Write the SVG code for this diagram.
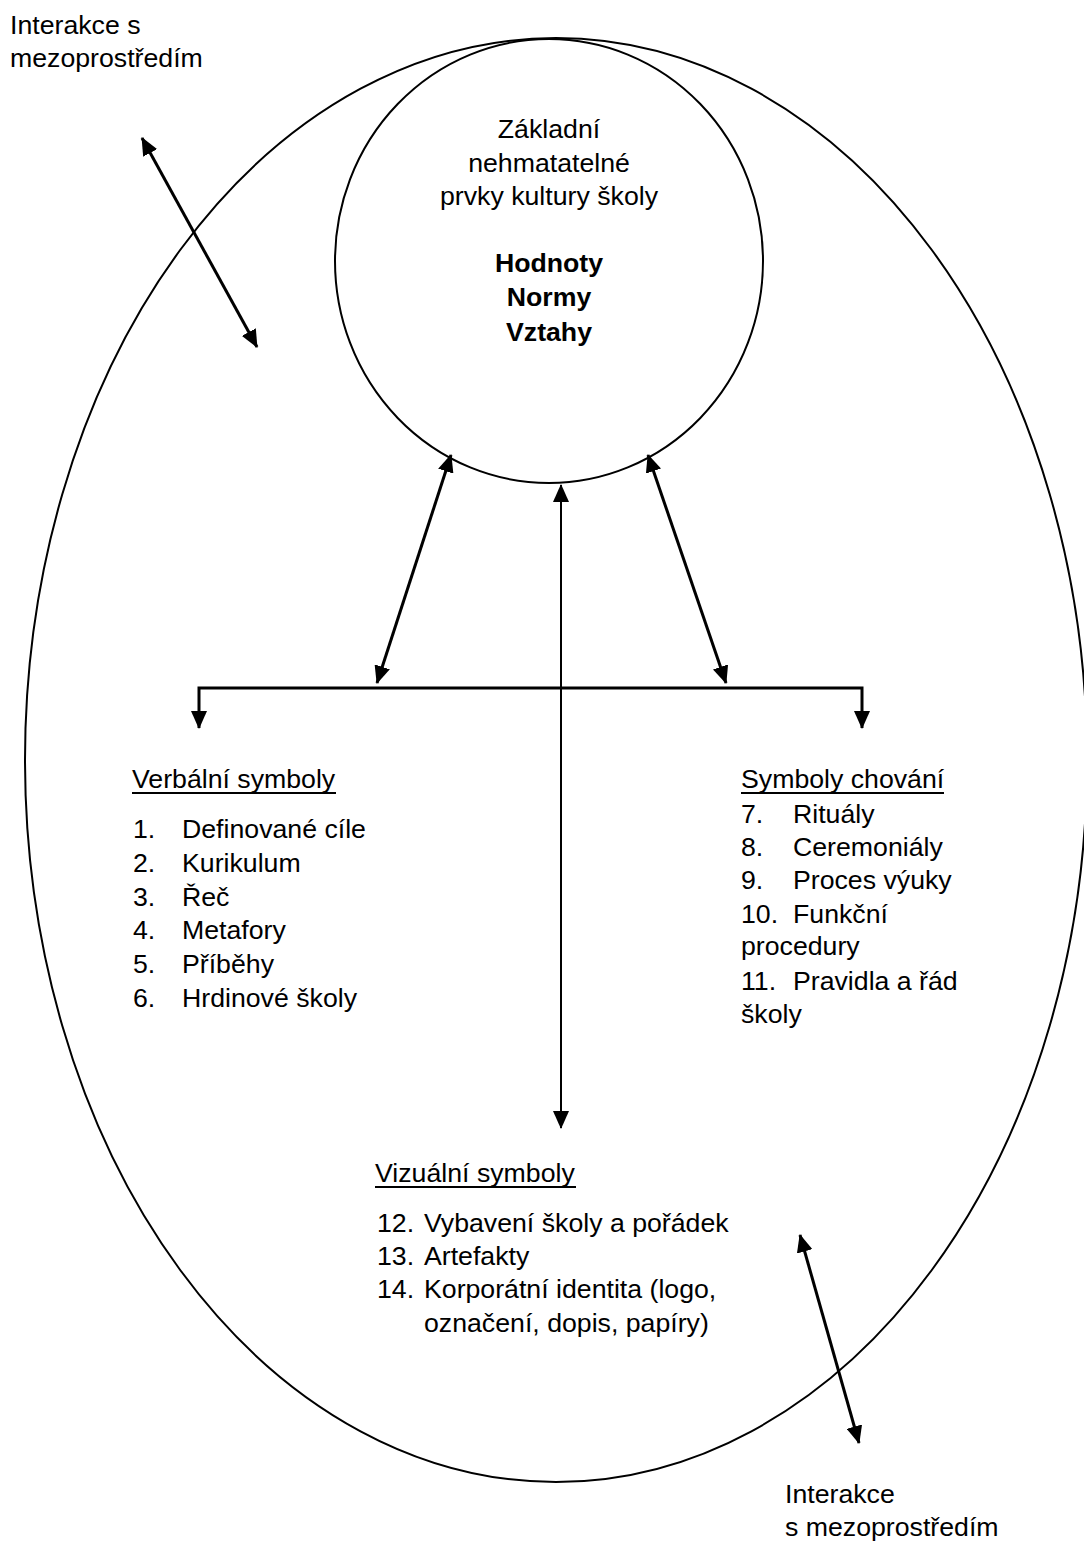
<svg xmlns="http://www.w3.org/2000/svg" width="1084" height="1544" viewBox="0 0 1084 1544">
<style>
text{font-family:"Liberation Sans",Arial,sans-serif;font-size:26.7px;fill:#000}
.b{font-weight:bold}
.c{text-anchor:middle}
.ul{stroke:#000;stroke-width:2}
.shape{fill:none;stroke:#000;stroke-width:2}
.arr{fill:none;stroke:#000;stroke-width:3;marker-start:url(#ah);marker-end:url(#ah)}
.thin{stroke-width:2}
</style>
<defs>
<marker id="ah" markerUnits="userSpaceOnUse" markerWidth="18" markerHeight="16" refX="17" refY="8" orient="auto-start-reverse" viewBox="0 0 18 16">
<path d="M0,0 L18,8 L0,16 z" fill="#000"/>
</marker>
</defs>
<rect width="1084" height="1544" fill="#fff"/>
<g id="outer">
<ellipse class="shape" cx="556" cy="760" rx="531" ry="722"/>
</g>
<g id="core">
<ellipse class="shape" cx="549" cy="261" rx="214" ry="222"/>
<text class="c" x="549" y="138">Základní</text>
<text class="c" x="549" y="172">nehmatatelné</text>
<text class="c" x="549" y="205">prvky kultury školy</text>
<text class="c b" x="549" y="272">Hodnoty</text>
<text class="c b" x="549" y="306">Normy</text>
<text class="c b" x="549" y="341">Vztahy</text>
</g>
<g id="interaction-top">
<text x="10" y="34">Interakce s</text>
<text x="10" y="67">mezoprostředím</text>
</g>
<g id="interaction-bottom">
<text x="785" y="1503">Interakce</text>
<text x="785" y="1536">s mezoprostředím</text>
</g>
<g id="verbal">
<text x="132" y="788">Verbální symboly</text>
<line class="ul" x1="132" y1="793" x2="336" y2="793"/>
<text x="133" y="838">1.</text><text x="182" y="838">Definované cíle</text>
<text x="133" y="872">2.</text><text x="182" y="872">Kurikulum</text>
<text x="133" y="906">3.</text><text x="182" y="906">Řeč</text>
<text x="133" y="939">4.</text><text x="182" y="939">Metafory</text>
<text x="133" y="973">5.</text><text x="182" y="973">Příběhy</text>
<text x="133" y="1007">6.</text><text x="182" y="1007">Hrdinové školy</text>
</g>
<g id="behaviour">
<text x="741" y="788">Symboly chování</text>
<line class="ul" x1="741" y1="793" x2="944" y2="793"/>
<text x="741" y="823">7.</text><text x="793" y="823">Rituály</text>
<text x="741" y="856">8.</text><text x="793" y="856">Ceremoniály</text>
<text x="741" y="889">9.</text><text x="793" y="889">Proces výuky</text>
<text x="741" y="923">10.</text><text x="793" y="923">Funkční</text>
<text x="741" y="955">procedury</text>
<text x="741" y="990">11.</text><text x="793" y="990">Pravidla a řád</text>
<text x="741" y="1023">školy</text>
</g>
<g id="visual">
<text x="375" y="1182">Vizuální symboly</text>
<line class="ul" x1="375" y1="1187" x2="576" y2="1187"/>
<text x="377" y="1232">12.</text><text x="424" y="1232">Vybavení školy a pořádek</text>
<text x="377" y="1265">13.</text><text x="424" y="1265">Artefakty</text>
<text x="377" y="1298">14.</text><text x="424" y="1298">Korporátní identita (logo,</text>
<text x="424" y="1332">označení, dopis, papíry)</text>
</g>
<g id="connectors">
<line class="arr" x1="142" y1="138" x2="257" y2="347"/>
<line class="arr" x1="800" y1="1235" x2="859" y2="1443"/>
<line class="arr" x1="451" y1="455" x2="377" y2="683"/>
<line class="arr" x1="648" y1="455" x2="726" y2="683"/>
<line class="arr thin" x1="561" y1="485" x2="561" y2="1128"/>
<path class="arr" d="M199,728 L199,688 L862,688 L862,728"/>
</g>
</svg>
